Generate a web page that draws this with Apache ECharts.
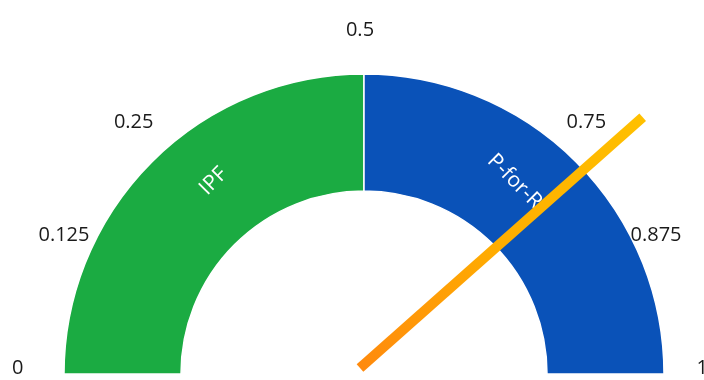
<!DOCTYPE html>
<html>
<head>
<meta charset="utf-8">
<script src="https://cdn.jsdelivr.net/npm/echarts@6/dist/echarts.min.js"></script>
<style>
  html, body { margin: 0; padding: 0; background: #fff; }
  #chart { width: 704px; height: 380px; }
</style>
</head>
<body>
<div id="chart"></div>
<script>
// 分段
const segments = ['IPF', 'P-for-R'];
const segmentValues = [0.5, 0.5];
const segmentColors = ['#1bab42', '#0a52b8'];
// 刻度标签
const tickValues = [0, 0.125, 0.25, 0.5, 0.75, 0.875, 1];
// 指针
const needleValue = 0.769;

const ringCenter = [364, 374];
const dialCenter = [360, 368];
const font = '"Open Sans", "Liberation Sans", sans-serif';
// 分段文字往顶部偏一点
const labelShift = 7 * Math.PI / 180;

const pieData = segments.map((name, i) => ({
  name: name,
  value: segmentValues[i],
  itemStyle: { color: segmentColors[i] }
}));
// 下半圆留空
pieData.push({
  name: '',
  value: segmentValues.reduce((a, b) => a + b, 0),
  itemStyle: { color: 'rgba(0,0,0,0)', borderWidth: 0 },
  label: { show: false }
});

const myChart = echarts.init(document.getElementById('chart'));
myChart.setOption({
  animation: false,
  series: [
    {
      type: 'pie',
      z: 1,
      center: ringCenter,
      radius: [183, 300],
      startAngle: 180,
      silent: true,
      itemStyle: { borderColor: '#fff', borderWidth: 1.5 },
      label: {
        show: true,
        position: 'inside',
        rotate: 'tangential',
        color: '#fff',
        fontSize: 21,
        fontFamily: font
      },
      labelLine: { show: false },
      labelLayout: function (params) {
        const r = params.labelRect;
        const x = r.x + r.width / 2;
        const y = r.y + r.height / 2;
        const d = Math.hypot(x - ringCenter[0], ringCenter[1] - y);
        let a = Math.atan2(ringCenter[1] - y, x - ringCenter[0]);
        a += (a > Math.PI / 2 ? -1 : 1) * labelShift;
        return {
          x: ringCenter[0] + d * Math.cos(a),
          y: ringCenter[1] - d * Math.sin(a)
        };
      },
      data: pieData
    },
    {
      type: 'gauge',
      z: 5,
      center: dialCenter,
      radius: 348,
      startAngle: 180,
      endAngle: 0,
      min: 0,
      max: 1,
      splitNumber: 8,
      silent: true,
      axisLine: { show: false, lineStyle: { width: 0 } },
      axisTick: { show: false },
      splitLine: { show: false, length: 0, distance: 0 },
      axisLabel: {
        distance: 0,
        color: '#1a1a1a',
        fontSize: 20,
        fontFamily: font,
        formatter: function (v) {
          return tickValues.indexOf(v) >= 0 ? String(v) : '';
        }
      },
      pointer: {
        show: true,
        icon: 'rect',
        length: '108.6%',
        width: 10,
        offsetCenter: [0, 0],
        itemStyle: {
          color: new echarts.graphic.LinearGradient(0, 0, 0, 1, [
            { offset: 0, color: '#ffc000' },
            { offset: 0.5, color: '#ffae00' },
            { offset: 1, color: '#ff8a0d' }
          ])
        }
      },
      anchor: { show: false },
      title: { show: false },
      detail: { show: false },
      data: [{ value: needleValue }]
    }
  ]
});
</script>
</body>
</html>
